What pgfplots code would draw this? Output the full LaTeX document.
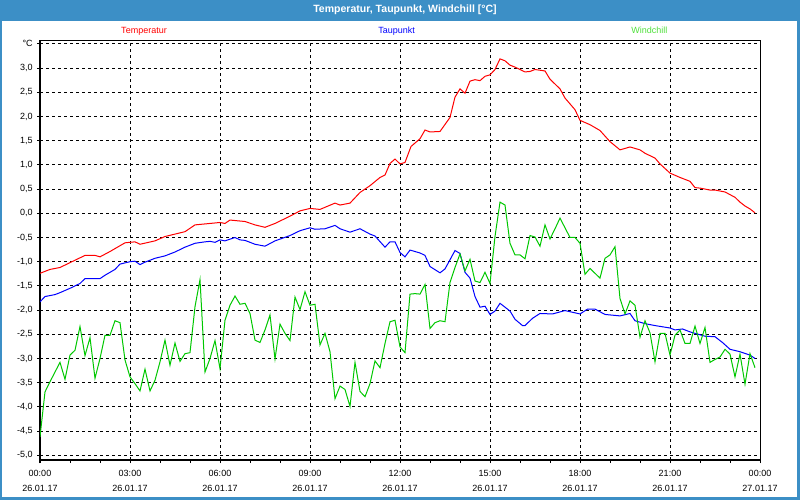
\documentclass[border=0pt]{standalone}
\usepackage{fontspec}
\setmainfont{Liberation Sans}
\usepackage{pgfplots}
\pgfplotsset{compat=1.18}
\definecolor{frameblue}{RGB}{60,143,198}
\definecolor{tempred}{RGB}{255,0,0}
\definecolor{dewblue}{RGB}{0,0,255}
\definecolor{windgreen}{RGB}{0,200,0}
\definecolor{windlabel}{RGB}{80,225,60}
\begin{document}
\begin{tikzpicture}
\path[use as bounding box] (0,0) rectangle (600pt,375pt);
\fill[white] (0,0) rectangle (600pt,375pt);
\fill[frameblue] (0,359.5pt) rectangle (600pt,375pt);
\fill[frameblue] (0,0) rectangle (1.5pt,375pt);
\fill[frameblue] (598.1pt,0) rectangle (600pt,375pt);
\fill[frameblue] (0,0) rectangle (600pt,1.9pt);
\node[anchor=base, font=\fontsize{7.9}{9}\selectfont\bfseries, text=white, inner sep=0pt] at (303.75pt,365.6pt) {Temperatur, Taupunkt, Windchill [°C]};
\node[anchor=base, font=\fontsize{6.75}{8}\selectfont, text=tempred, inner sep=0pt] at (108pt,350.1pt) {Temperatur};
\node[anchor=base, font=\fontsize{6.75}{8}\selectfont, text=dewblue, inner sep=0pt] at (297.4pt,350.1pt) {Taupunkt};
\node[anchor=base, font=\fontsize{6.75}{8}\selectfont, text=windlabel, inner sep=0pt] at (487.1pt,350.1pt) {Windchill};
\begin{axis}[
  at={(30pt,30pt)}, anchor=south west,
  scale only axis, width=540pt, height=314.5pt,
  xmin=0, xmax=1440, ymin=-5.097, ymax=3.566,
  xtick={0,180,360,540,720,900,1080,1260,1440},
  minor xtick={0,60,...,1440},
  xticklabels={{00:00\\26.01.17},{03:00\\26.01.17},{06:00\\26.01.17},{09:00\\26.01.17},{12:00\\26.01.17},{15:00\\26.01.17},{18:00\\26.01.17},{21:00\\26.01.17},{00:00\\27.01.17}},
  ytick={-5,-4.5,-4,-3.5,-3,-2.5,-2,-1.5,-1,-0.5,0,0.5,1,1.5,2,2.5,3,3.5},
  yticklabels={{-5,0},{-4,5},{-4,0},{-3,5},{-3,0},{-2,5},{-2,0},{-1,5},{-1,0},{-0,5},{0,0},{0,5},{1,0},{1,5},{2,0},{2,5},{3,0},{°C}},
  tick pos=left, tick align=outside,
  major tick length=2.25pt, minor tick length=2.25pt,
  tick style={black, line width=0.75pt},
  axis line style={black, line width=0.75pt},
  grid=major,
  major grid style={black, line width=0.75pt, dash pattern=on 2.25pt off 2.25pt},
  ticklabel style={font=\fontsize{6.75}{11.25}\selectfont, text=black},
  xticklabel style={align=center, inner sep=0pt, yshift=-5.1pt},
  yticklabel style={inner sep=0pt, xshift=-3pt},
  every axis plot/.append style={line width=0.75pt},
  no markers,
]
% Temperatur
\addplot[tempred] coordinates {
(0,-1.24) (20,-1.16) (40,-1.12) (50,-1.07) (70,-0.97) (90,-0.87) (110,-0.87) (120,-0.90)
(140,-0.79) (170,-0.61) (190,-0.59) (200,-0.64) (230,-0.57) (250,-0.48) (270,-0.43) (290,-0.38)
(310,-0.24) (340,-0.21) (360,-0.19) (370,-0.21) (380,-0.14) (410,-0.17) (430,-0.24) (450,-0.29)
(470,-0.21) (500,-0.06) (520,0.05) (540,0.10) (560,0.08) (590,0.21) (600,0.17) (620,0.21)
(640,0.43) (660,0.57) (680,0.74) (690,0.79) (700,1.03) (710,1.12) (720,1.02) (730,1.05)
(742,1.38) (760,1.54) (770,1.72) (780,1.68) (800,1.69) (820,1.98) (830,2.40) (840,2.57)
(850,2.48) (860,2.73) (870,2.76) (880,2.74) (890,2.83) (900,2.86) (910,2.97) (920,3.19)
(930,3.15) (940,3.06) (950,3.02) (970,2.92) (980,2.93) (990,2.97) (1010,2.94) (1020,2.77)
(1040,2.57) (1050,2.38) (1070,2.14) (1080,1.92) (1100,1.83) (1120,1.71) (1140,1.48) (1160,1.31)
(1180,1.37) (1200,1.31) (1210,1.24) (1230,1.14) (1240,1.02) (1260,0.83) (1280,0.74) (1300,0.66)
(1310,0.53) (1320,0.52) (1340,0.48) (1350,0.48) (1360,0.46) (1370,0.44) (1390,0.33) (1400,0.23)
(1410,0.15) (1420,0.09) (1430,0.01)
};
% Taupunkt
\addplot[dewblue] coordinates {
(0,-1.83) (10,-1.72) (30,-1.68) (40,-1.64) (60,-1.55) (80,-1.45) (90,-1.35) (120,-1.35)
(130,-1.28) (150,-1.16) (160,-1.05) (180,-1.00) (190,-0.99) (200,-1.06) (210,-1.01) (230,-0.93)
(250,-0.88) (270,-0.80) (290,-0.70) (310,-0.62) (330,-0.59) (340,-0.58) (350,-0.60) (360,-0.55)
(370,-0.57) (390,-0.50) (400,-0.55) (410,-0.56) (430,-0.64) (450,-0.68) (470,-0.57) (500,-0.46)
(520,-0.36) (540,-0.30) (550,-0.33) (570,-0.32) (590,-0.25) (600,-0.32) (620,-0.39) (640,-0.32)
(660,-0.43) (670,-0.47) (690,-0.70) (700,-0.59) (710,-0.59) (720,-0.81) (730,-0.90) (740,-0.76)
(760,-0.82) (770,-0.87) (780,-1.10) (800,-1.23) (810,-1.15) (830,-0.77) (840,-0.83) (850,-1.22)
(860,-1.34) (870,-1.72) (880,-1.94) (890,-1.92) (900,-2.09) (910,-2.02) (920,-1.86) (940,-2.02)
(950,-2.19) (965,-2.32) (970,-2.32) (985,-2.17) (1000,-2.07) (1025,-2.08) (1050,-2.01) (1080,-2.08)
(1095,-1.98) (1110,-1.98) (1130,-2.09) (1160,-2.12) (1180,-2.07) (1190,-2.22) (1210,-2.28) (1230,-2.32)
(1260,-2.37) (1270,-2.41) (1285,-2.39) (1300,-2.45) (1310,-2.48) (1330,-2.54) (1350,-2.55) (1365,-2.67)
(1380,-2.81) (1400,-2.86) (1420,-2.93) (1430,-3.00)
};
% Windchill
\addplot[windgreen] coordinates {
(0,-4.62) (10,-3.69) (20,-3.48) (30,-3.28) (40,-3.08) (50,-3.43) (60,-2.93) (70,-2.83)
(80,-2.34) (90,-2.94) (100,-2.57) (110,-3.41) (120,-3.00) (130,-2.52) (140,-2.52) (150,-2.22)
(160,-2.26) (170,-3.03) (180,-3.38) (190,-3.52) (200,-3.67) (210,-3.22) (220,-3.67) (230,-3.45)
(240,-3.07) (250,-2.62) (260,-3.14) (270,-2.68) (280,-3.06) (290,-2.90) (300,-2.88) (310,-1.93)
(320,-1.37) (330,-3.28) (340,-3.00) (350,-2.63) (360,-3.21) (370,-2.21) (380,-1.90) (390,-1.71)
(400,-1.88) (410,-1.86) (420,-2.07) (430,-2.62) (440,-2.67) (450,-2.41) (460,-2.10) (470,-3.01)
(480,-2.29) (490,-2.48) (500,-2.63) (510,-1.73) (520,-1.99) (530,-1.62) (540,-1.90) (550,-1.88)
(560,-2.72) (570,-2.48) (580,-2.86) (590,-3.83) (600,-3.57) (610,-3.64) (620,-3.99) (630,-3.08)
(640,-3.68) (650,-3.79) (660,-3.52) (670,-3.05) (680,-3.19) (690,-2.69) (700,-2.24) (710,-2.21)
(720,-2.76) (730,-2.88) (740,-1.67) (750,-1.66) (760,-1.67) (770,-1.47) (780,-2.38) (790,-2.26)
(800,-2.22) (810,-2.24) (820,-1.43) (830,-1.12) (840,-0.84) (850,-1.19) (860,-0.95) (870,-1.40)
(880,-1.43) (890,-1.22) (900,-1.45) (910,-0.48) (920,0.23) (930,0.17) (940,-0.62) (950,-0.86)
(960,-0.86) (970,-0.94) (980,-0.46) (990,-0.49) (1000,-0.68) (1010,-0.24) (1020,-0.53) (1030,-0.32)
(1040,-0.10) (1050,-0.30) (1060,-0.50) (1070,-0.50) (1080,-0.62) (1090,-1.26) (1100,-1.14) (1110,-1.24)
(1120,-1.34) (1130,-0.93) (1140,-0.86) (1150,-0.69) (1160,-1.76) (1170,-2.08) (1180,-1.81) (1190,-1.90)
(1200,-2.56) (1210,-2.22) (1220,-2.47) (1230,-3.07) (1240,-2.48) (1250,-2.48) (1260,-2.93) (1270,-2.52)
(1280,-2.41) (1290,-2.69) (1300,-2.69) (1310,-2.33) (1320,-2.69) (1330,-2.36) (1340,-3.08) (1350,-3.02)
(1360,-2.97) (1370,-2.81) (1380,-2.91) (1390,-3.38) (1400,-2.91) (1410,-3.53) (1420,-2.90) (1430,-3.19)
};
\end{axis}
\end{tikzpicture}
\end{document}
